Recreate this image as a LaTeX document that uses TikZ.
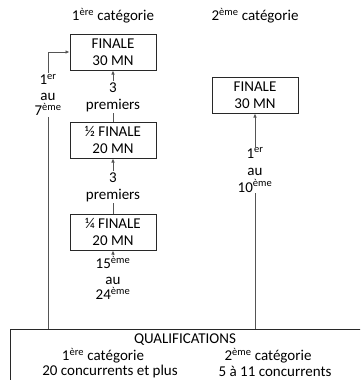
\documentclass[tikz,border=0pt]{standalone}
\usepackage{fontspec}
\setmainfont{Carlito}
\usetikzlibrary{positioning,calc,arrows.meta}
\definecolor{trait}{RGB}{85,85,85}
\definecolor{cadre}{RGB}{40,40,40}

\begin{document}
\begin{tikzpicture}[x=1pt,y=-1pt,font=\fontsize{15}{17}\selectfont,>={Latex[length=4pt,width=3.5pt]},
          b/.style={draw=cadre,line width=1pt,align=center,minimum width=86pt,minimum height=36pt,inner sep=1pt},
          lbl/.style={align=center,inner sep=1pt},
          c/.style={draw=trait,line width=0.7pt}]
        \clip (0,0) rectangle (360,380);
        % en-tetes
        \node (cat1) at (113,16) {1\textsuperscript{ère} catégorie};
        \node (cat2) at (255,16) {2\textsuperscript{ème} catégorie};
        % boites
        \node[b] (fin1) at (113,52) {FINALE\\30 MN};
        \node[b] (fin2) at (255,95) {FINALE\\30 MN};
        \node[b] (demi) at (113,140) {½ FINALE\\20 MN};
        \node[b] (quart) at (113,232) {¼ FINALE\\20 MN};
        \node[draw=cadre,line width=1pt,anchor=north west,minimum width=370pt,minimum height=70pt] (qual) at (10,329) {};
        % textes des qualifications
        \node (qt) at (185,340) {QUALIFICATIONS};
        \node (q1) at (103,356) {1\textsuperscript{ère} catégorie};
        \node (q2) at (268,356) {2\textsuperscript{ème} catégorie};
        \node (q3) at (110,371) {20 concurrents et plus};
        \node (q4) at (275,371) {5 à 11 concurrents};
        % etiquettes
        \node[lbl] (pr1) at (113,97) {3\\premiers};
        \node[lbl] (pr2) at (113,187) {3\\premiers};
        \node[lbl,font=\fontsize{15}{15.5}\selectfont] (rg1) at (113,278) {15\textsuperscript{ème}\\au\\24\textsuperscript{ème}};
        \node[lbl,font=\fontsize{15}{15.5}\selectfont] (rg2) at (48,95) {1\textsuperscript{er}\\au\\7\textsuperscript{ème}};
        \node[lbl] (rg3) at (255,170) {1\textsuperscript{er}\\au\\10\textsuperscript{ème}};
        % liaisons
        \draw[c] (demi) -- (pr1);
        \draw[c,->] (pr1) -- (fin1);
        \draw[c] (quart) -- (pr2);
        \draw[c,->] (pr2) -- (demi);
        \draw[c,->] (rg1) -- (quart);
        \draw[c] (rg2) -- (rg2 |- qual.north);
        \draw[c,->] (rg2.north) |- (fin1.west);
        \draw[c] (rg3) -- (rg3 |- qual.north);
        \draw[c,->] (rg3) -- (fin2);
      \end{tikzpicture}
\end{document}
